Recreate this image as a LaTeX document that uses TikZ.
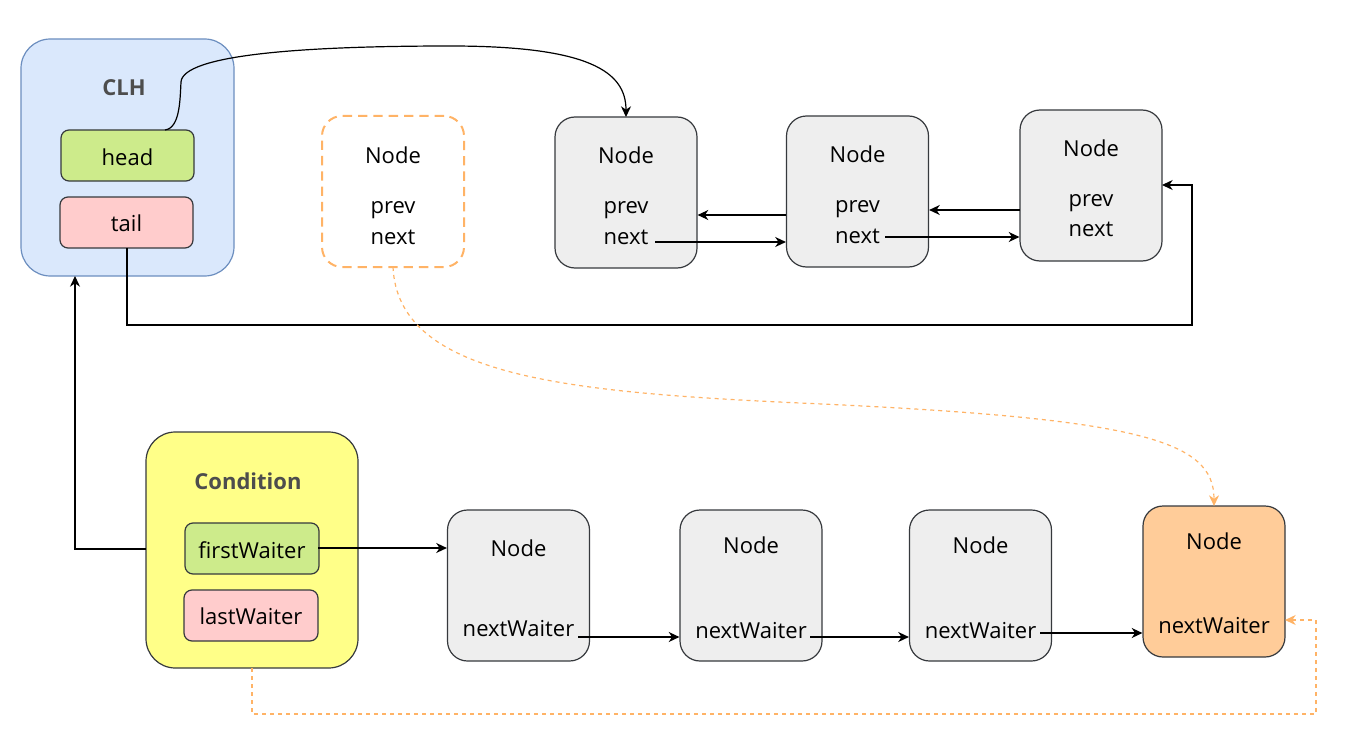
\documentclass[tikz,border=0pt]{standalone}
\usepackage{fontspec}
\setmainfont{Open Sans}
\usetikzlibrary{arrows.meta}
\definecolor{bluefill}{HTML}{DAE8FC}
\definecolor{bluestroke}{HTML}{6C8EBF}
\definecolor{greenfill}{HTML}{CDEB8B}
\definecolor{redfill}{HTML}{FFCCCC}
\definecolor{grayfill}{HTML}{EEEEEE}
\definecolor{darkstroke}{HTML}{36393D}
\definecolor{yellowfill}{HTML}{FFFF88}
\definecolor{orangefill}{HTML}{FFCC99}
\definecolor{orangestroke}{HTML}{FFB366}
\definecolor{titlegray}{HTML}{4D4D4D}
\begin{document}
\begin{tikzpicture}[x=0.75pt,y=-0.75pt,
  rbox/.style={draw=darkstroke, line width=0.9pt, inner sep=0pt, rounded corners=15pt,
    minimum width=106.5pt, minimum height=113.25pt},
  field/.style={draw=darkstroke, line width=0.9pt, inner sep=0pt, rounded corners=6pt,
    minimum width=99.75pt, minimum height=38.25pt},
  container/.style={line width=0.9pt, inner sep=0pt, rounded corners=22pt},
  txt/.style={font=\fontsize{16.5}{19}\selectfont, inner sep=0pt, text=black},
  title/.style={font=\fontsize{16.5}{19}\selectfont\bfseries, inner sep=0pt, text=titlegray},
  arr/.style={draw=black, line width=0.9pt, -{Stealth[length=8pt,width=7.5pt,inset=2.5pt]}},
  oarr/.style={draw=orangestroke, line width=0.9pt, dash pattern=on 3pt off 3pt, -{Stealth[length=8pt,width=7.5pt,inset=2.5pt]}}
]
\useasboundingbox (0,0) rectangle (1366,756);

% CLH container
\node[container, draw=bluestroke, fill=bluefill, minimum width=159.75pt, minimum height=177.75pt] (clh) at (127.5,157.5) {};
\node[title] (clht) at (124,88) {CLH};
\node[field, fill=greenfill] (head) at (127.5,155.5) {};
\node[txt] (headt) at (127.5,157) {head};
\node[field, fill=redfill] (tail) at (126.5,222.5) {};
\node[txt] (tailt) at (126.5,223) {tail};

% dashed node
\node[rbox, draw=orangestroke, line width=1.5pt, dash pattern=on 7pt off 4.5pt, fill=white] (dn) at (393,191.5) {};
\node[txt] (dnt) at (393,155) {Node};
\node[txt] (dnp) at (393,210) {prev};
\node[txt] (dnn) at (393,237) {next};

% CLH nodes
\node[rbox, fill=grayfill] (n1) at (626,192.5) {};
\node[txt] (n1t) at (626,155) {Node};
\node[txt] (n1p) at (626,210) {prev};
\node[txt] (n1n) at (626,237) {next};

\node[rbox, fill=grayfill] (n2) at (857.5,191.5) {};
\node[txt] (n2t) at (857.5,154) {Node};
\node[txt] (n2p) at (857.5,209) {prev};
\node[txt] (n2n) at (857.5,236) {next};

\node[rbox, fill=grayfill] (n3) at (1091,185.5) {};
\node[txt] (n3t) at (1091,148) {Node};
\node[txt] (n3p) at (1091,203) {prev};
\node[txt] (n3n) at (1091,229) {next};

% Condition container
\node[container, draw=darkstroke, fill=yellowfill, minimum width=159pt, minimum height=177pt] (cond) at (252,550) {};
\node[title] (condt) at (248,481) {Condition};
\node[field, fill=greenfill, minimum width=100.5pt] (fw) at (252,548.5) {};
\node[txt] (fwt) at (252,550) {firstWaiter};
\node[field, fill=redfill, minimum width=100.5pt] (lw) at (251,615.5) {};
\node[txt] (lwt) at (251,616) {lastWaiter};

% Condition queue nodes
\node[rbox, fill=grayfill] (qa) at (518.5,585.5) {};
\node[txt] (qat) at (518.5,548) {Node};
\node[txt] (qan) at (518.5,629) {nextWaiter};

\node[rbox, fill=grayfill] (qb) at (751,585.5) {};
\node[txt] (qbt) at (751,545) {Node};
\node[txt] (qbn) at (751,631) {nextWaiter};

\node[rbox, fill=grayfill] (qc) at (980.5,585.5) {};
\node[txt] (qct) at (980.5,545) {Node};
\node[txt] (qcn) at (980.5,631) {nextWaiter};

\node[rbox, fill=orangefill] (qd) at (1214,581.5) {};
\node[txt] (qdt) at (1214,541) {Node};
\node[txt] (qdn) at (1214,626) {nextWaiter};

% coordinates for connector ends
\coordinate (hs) at (165,130);
\coordinate (n1top) at (626,117);
\coordinate (n1nx) at (655,242);
\coordinate (n2nx) at (885,237);
\coordinate (n2pv) at (786,215);
\coordinate (n3pv) at (1020,210);
\coordinate (tb) at (127,248);
\coordinate (n3r) at (1162,185);
\coordinate (cl) at (146,549);
\coordinate (clhb) at (75,276);
\coordinate (fwe) at (318,548);
\coordinate (qae) at (578,637);
\coordinate (qbe) at (810,637);
\coordinate (qce) at (1040,633);
\coordinate (condb) at (252,668);
\coordinate (qdr) at (1285,620);
\coordinate (dnb) at (393,267);
\coordinate (qdtop) at (1214,506);

% head -> first node
\draw[arr] (hs) .. controls (180,128) and (180,100) .. (181,82)
  .. controls (183,55) and (300,46) .. (450,46)
  .. controls (590,46) and (626,72) .. (n1top);

% prev / next arrows
\draw[arr] (n2pv) -- (n2pv -| n1.east);
\draw[arr] (n1nx) -- (n1nx -| n2.west);
\draw[arr] (n3pv) -- (n3pv -| n2.east);
\draw[arr] (n2nx) -- (n2nx -| n3.west);

% tail -> last node
\draw[arr] (tb) -- (127,325) -- (1192,325) -- (1192,185) -- (n3r);

% condition -> CLH
\draw[arr] (cl) -- (75,549) -- (clhb);

% firstWaiter -> first node
\draw[arr] (fwe) -- (fwe -| qa.west);

% nextWaiter chain
\draw[arr] (qae) -- (qae -| qb.west);
\draw[arr] (qbe) -- (qbe -| qc.west);
\draw[arr] (qce) -- (qce -| qd.west);

% orange dashed connectors
\draw[oarr] (condb) -- (252,714) -- (1316,714) -- (1316,620) -- (qdr);
\draw[oarr] (dnb) .. controls (398,375) and (560,392) .. (800,403)
  .. controls (1140,418) and (1214,440) .. (qdtop);
\end{tikzpicture}
\end{document}
